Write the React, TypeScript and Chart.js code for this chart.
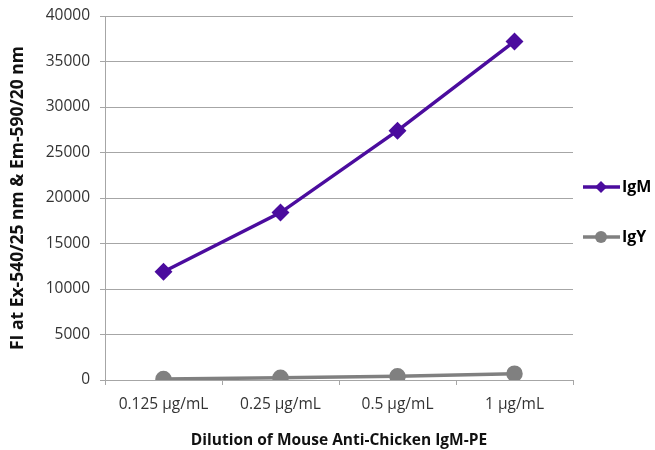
import React, { useEffect, useRef } from "react";
import { Chart, registerables } from "chart.js";

Chart.register(...registerables);

const categories = ["0.125 µg/mL", "0.25 µg/mL", "0.5 µg/mL", "1 µg/mL"];
const igmValues = [11900, 18400, 27400, 37200];
const igyValues = [100, 250, 400, 700];
const seriesNames = ["IgM", "IgY"];
const seriesColors = ["#4B0C9E", "#808080"];

const FONT = "'Open Sans', 'Liberation Sans', sans-serif";

const legendPlugin = {
  id: "customLegend",
  afterDraw(chart: any) {
    const ctx = chart.ctx;
    const ys = [187, 237];
    chart.data.datasets.forEach((ds: any, i: number) => {
      const y = ys[i];
      ctx.save();
      ctx.strokeStyle = ds.borderColor;
      ctx.lineWidth = 3.5;
      ctx.beginPath();
      ctx.moveTo(583, y);
      ctx.lineTo(620, y);
      ctx.stroke();
      ctx.fillStyle = ds.borderColor;
      ctx.beginPath();
      if (ds.pointStyle === "rectRot") {
        const r = 6;
        ctx.moveTo(601, y - r);
        ctx.lineTo(601 + r, y);
        ctx.lineTo(601, y + r);
        ctx.lineTo(601 - r, y);
        ctx.closePath();
      } else {
        ctx.arc(601, y, 6, 0, Math.PI * 2);
      }
      ctx.fill();
      ctx.fillStyle = "#000";
      ctx.font = `bold 16px ${FONT}`;
      ctx.textBaseline = "middle";
      ctx.textAlign = "left";
      ctx.fillText(ds.label, 622, y);
      ctx.restore();
    });
  },
};

export default function App() {
  const ref = useRef<HTMLCanvasElement>(null);
  useEffect(() => {
    const chart = new Chart(ref.current!, {
      type: "line",
      data: {
        labels: categories,
        datasets: [
          {
            label: seriesNames[0],
            data: igmValues,
            borderColor: seriesColors[0],
            backgroundColor: seriesColors[0],
            borderWidth: 3.5,
            pointStyle: "rectRot",
            pointRadius: 6.5,
            pointHoverRadius: 6.5,
          },
          {
            label: seriesNames[1],
            data: igyValues,
            borderColor: seriesColors[1],
            backgroundColor: seriesColors[1],
            borderWidth: 3.5,
            pointStyle: "circle",
            pointRadius: 6.5,
            pointHoverRadius: 6.5,
          },
        ],
      },
      options: {
        animation: false,
        responsive: false,
        maintainAspectRatio: false,
        layout: { padding: { top: 16, right: 82, left: 0, bottom: 0 } },
        plugins: { legend: { display: false }, tooltip: { enabled: false } },
        scales: {
          x: {
            offset: true,
            grid: {
              offset: true,
              drawOnChartArea: false,
              drawTicks: true,
              tickLength: 5,
              color: "#A6A6A6",
            },
            border: { color: "#A6A6A6", width: 1 },
            ticks: { color: "#333", font: { family: FONT, size: 15.5 }, padding: 10, maxRotation: 0 },
            title: {
              display: true,
              text: "Dilution of Mouse Anti-Chicken IgM-PE",
              color: "#111",
              font: { family: FONT, size: 15.5, weight: "bold" },
              padding: { top: 8, bottom: 0 },
            },
            afterFit(scale: any) {
              scale.height = 70;
              scale.paddingLeft = 0;
              scale.paddingRight = 0;
            },
          },
          y: {
            min: 0,
            max: 40000,
            ticks: {
              stepSize: 5000,
              color: "#333",
              font: { family: FONT, size: 15.5 },
              padding: 10,
              callback: (v: any) => String(v),
            },
            grid: { color: "#A6A6A6", tickLength: 5, lineWidth: 1 },
            border: { color: "#A6A6A6", width: 1 },
            title: {
              display: true,
              text: "FI at Ex-540/25 nm & Em-590/20 nm",
              color: "#111",
              font: { family: FONT, size: 17.5, weight: "bold" },
              padding: { top: 8, bottom: 0 },
            },
            afterFit(scale: any) {
              scale.width = 105;
              scale.paddingTop = 0;
              scale.paddingBottom = 0;
            },
          },
        },
      },
      plugins: [legendPlugin],
    });
    return () => chart.destroy();
  }, []);
  return (
    <div style={{ position: "fixed", left: 0, top: 0, width: 655, height: 450, background: "#fff" }}>
      <canvas ref={ref} width={655} height={450} style={{ width: 655, height: 450 }} />
    </div>
  );
}
